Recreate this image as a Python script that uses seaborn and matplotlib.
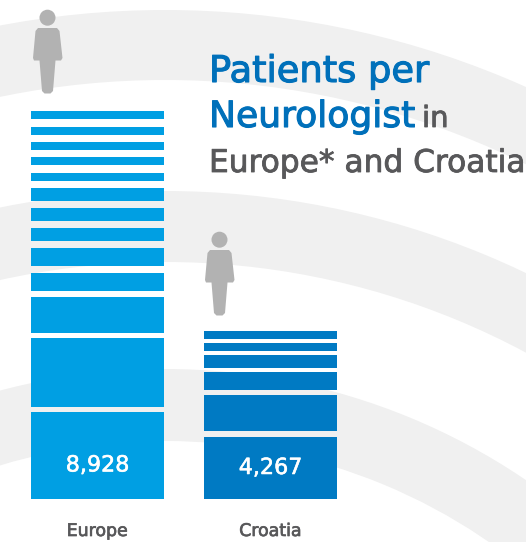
import matplotlib
matplotlib.use('Agg')
import pandas as pd
import matplotlib.pyplot as plt
import seaborn as sns
from matplotlib.patches import Circle, Polygon, Wedge
from matplotlib import patheffects as pe

# Values
regions = ['Europe', 'Croatia']
patients = [8928, 4267]
# band thickness from the bottom of each stack up, in picture units
europe_bands = [87, 69, 36, 18, 18, 13, 13, 13, 8, 8, 8, 8, 8]
europe_gaps = [5, 5, 6, 7, 7, 7, 7, 7, 8, 7, 7, 8]
croatia_bands = [62, 36, 18, 13, 8, 8]
croatia_gaps = [6, 5, 4, 4, 4]

BLUE_EU = '#009fe3'
BLUE_HR = '#007ac3'
TITLE_BLUE = '#0070ba'
GREY = '#58585a'
ARC = '#f0f0f0'
PERSON = '#b2b2b2'


def stack_table(region, bands, gaps):
    rows = []
    base = 0
    for i, h in enumerate(bands):
        rows.append({'region': region, 'band': h, 'base': base})
        if i < len(gaps):
            base += h + gaps[i]
    return rows


def heavier(color, w=0.5):
    return [pe.withStroke(linewidth=w, foreground=color)]


df = pd.DataFrame(stack_table('Europe', europe_bands, europe_gaps)
                  + stack_table('Croatia', croatia_bands, croatia_gaps))

sns.set_theme(style='white')
plt.rcParams['font.family'] = ['DejaVu Sans']

fig = plt.figure(figsize=(5.26, 5.42), dpi=100)

# backdrop in pixel coordinates: arcs and people
bg = fig.add_axes([0, 0, 1, 1], zorder=0)
bg.set_xlim(0, 526)
bg.set_ylim(542, 0)
bg.axis('off')

for top, thick, radius in [(10, 70, 885), (191, 71, 835), (369, 72, 642)]:
    bg.add_patch(Wedge((165, top + radius), radius, 0, 360, width=thick, color=ARC, lw=0))


def person(ax, dx, dy):
    ax.add_patch(Circle((47.5 + dx, 17.7 + dy), 8, color=PERSON, lw=0))
    body = [(38, 28), (57, 28), (59.5, 31), (62.5, 58), (61, 60.5), (55.5, 60.5),
            (53, 91), (50.5, 93.5), (44.5, 93.5), (42, 91), (39.5, 60.5), (34, 60.5),
            (33, 58), (35.5, 31)]
    ax.add_patch(Polygon([(x + dx, y + dy) for x, y in body], closed=True,
                         color=PERSON, lw=0))


person(bg, 0, 0)
person(bg, 172, 222)

# bars on their own transparent axes
ax = fig.add_axes([0, 0, 1, 1], zorder=1)
ax.patch.set_alpha(0)
for _, row in df.iterrows():
    sns.barplot(x=[row['region']], y=[row['band']], order=regions,
                color=BLUE_EU if row['region'] == 'Europe' else BLUE_HR,
                bottom=row['base'], width=0.769, saturation=1, ax=ax, linewidth=0)

ax.set_xlim(-97.5 / 173, (526 - 97.5) / 173)
ax.set_ylim(-43, 499)
sns.despine(ax=ax, left=True, bottom=True)
ax.set_yticks([])
ax.set_xlabel('')
ax.set_ylabel('')
ax.tick_params(axis='x', length=0, pad=0)
ax.set_xticks(range(len(regions)))
ax.set_xticklabels([])

for i, (name, v) in enumerate(zip(regions, patients)):
    ax.text(i, 33.5 if i == 0 else 31, f'{v:,}', color='white', fontsize=16,
            ha='center', va='center', path_effects=heavier('white', 0.4))
    ax.text(i, -32, name, color=GREY, fontsize=12.5, ha='center', va='center',
            path_effects=heavier(GREY, 0.5))

# title, three lines
bg2 = fig.add_axes([0, 0, 1, 1], zorder=2)
bg2.patch.set_alpha(0)
bg2.set_xlim(0, 526)
bg2.set_ylim(542, 0)
bg2.axis('off')
bg2.text(209, 82, 'Patients per', color=TITLE_BLUE, fontsize=26.5, va='baseline',
         path_effects=heavier(TITLE_BLUE, 0.8))
bg2.text(209, 127, 'Neurologist', color=TITLE_BLUE, fontsize=26, va='baseline',
         path_effects=heavier(TITLE_BLUE, 0.8))
bg2.text(422, 127, 'in', color=GREY, fontsize=21, va='baseline',
         path_effects=heavier(GREY, 0.6))
bg2.text(209, 172, 'Europe* and Croatia', color=GREY, fontsize=22.5, va='baseline',
         path_effects=heavier(GREY, 0.6))

fig.savefig('out.png', dpi=100)
